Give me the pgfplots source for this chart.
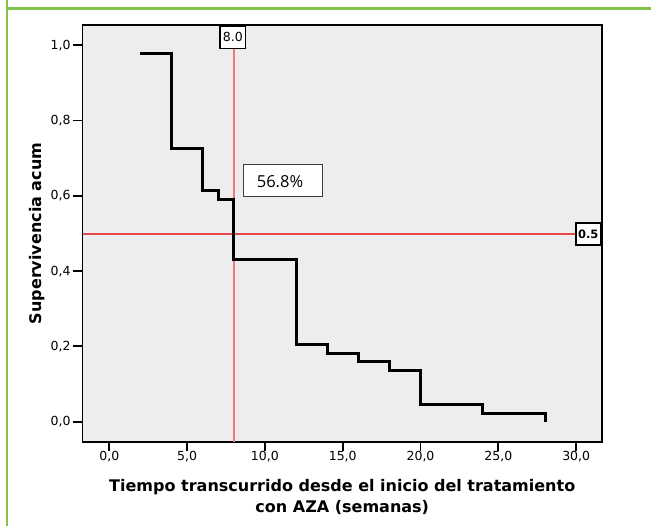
\documentclass[border=0pt]{standalone}
\usepackage{pgfplots}
\pgfplotsset{compat=1.18}
\usepackage{fontspec}
\setmainfont{DejaVu Sans}
\newfontfamily\opensans{Open Sans}
\definecolor{kmgray}{RGB}{237,237,237}
\definecolor{bordergreen}{RGB}{128,194,76}
\definecolor{boxline}{RGB}{60,60,60}
\definecolor{kmhred}{rgb}{0.89,0.28,0.28}
\begin{document}
\begin{tikzpicture}
\useasboundingbox (0pt,0pt) rectangle (651pt,526pt);
\fill[white] (0pt,0pt) rectangle (651pt,526pt);
\fill[bordergreen] (5.8pt,0pt) rectangle (8.4pt,526pt);
\fill[bordergreen] (5.8pt,516.4pt) rectangle (651pt,519pt);
\begin{axis}[
  at={(82.5pt,84pt)}, anchor=south west,
  scale only axis, width=519.5pt, height=417pt,
  xmin=-1.72, xmax=31.66, ymin=-0.054, ymax=1.054,
  clip=false,
  axis background/.style={fill=kmgray},
  axis line style={line width=1.8pt, draw=black},
  xtick={0,5,10,15,20,25,30},
  ytick={0,0.2,0.4,0.6,0.8,1},
  tick align=outside, tick pos=left,
  major tick length=9.5pt,
  xtick style={draw=black, line width=1.8pt},
  ytick style={draw=black, line width=1.8pt},
  /pgf/number format/fixed,
  /pgf/number format/fixed zerofill,
  /pgf/number format/precision=1,
  /pgf/number format/use comma,
  /pgf/number format/assume math mode=true,
  xticklabel style={font=\fontsize{12.5}{14}\selectfont, inner sep=0pt, anchor=north, yshift=0.4pt},
  yticklabel style={font=\fontsize{12.5}{14}\selectfont, inner sep=0pt, anchor=east, xshift=-2.3pt},
  xlabel={Tiempo transcurrido desde el inicio del tratamiento\\con AZA (semanas)},
  xlabel style={at={(axis description cs:0.5,0)}, anchor=north, yshift=-37.5pt, inner sep=0pt, align=center, font=\fontsize{16}{21}\selectfont\bfseries},
  ylabel={Supervivencia acum},
  ylabel style={at={(axis description cs:-0.0866,0.5)}, anchor=center, inner sep=0pt, font=\fontsize{16}{19}\selectfont\bfseries},
]
% reference lines
\addplot[draw=kmhred, line width=2pt, sharp plot] coordinates {(-1.72,0.4985) (29.97,0.4985)};
\addplot[color={rgb,255:red,240;green,120;blue,120}, line width=1.5pt] coordinates {(8,-0.054) (8,0.992)};
% Kaplan-Meier step curve
\addplot[color=black, line width=3pt, const plot mark left, line join=miter] coordinates {
  (2,0.977) (4,0.727) (6,0.614) (7,0.591) (8,0.432) (12,0.205)
  (14,0.182) (16,0.159) (18,0.136) (20,0.045) (24,0.023) (28,0.0)
};
% annotations
\node[draw=black, line width=1.4pt, fill=white, inner sep=0pt, minimum width=25.7pt, minimum height=22.3pt, font=\fontsize{12.5}{14}\selectfont] at (axis cs:7.94,1.021) {8.0};
\node[draw=black, line width=1.4pt, fill=white, inner sep=0pt, minimum width=25pt, minimum height=22pt, font=\fontsize{11.5}{14}\selectfont\bfseries] at (axis cs:30.78,0.4985) {0.5};
\node[draw=boxline, line width=0.9pt, fill=white, inner sep=0pt, minimum width=79.4pt, minimum height=32.7pt] at (axis cs:11.16,0.641) {};
\node[inner sep=0pt, font=\opensans\fontsize{16.5}{18}\selectfont] at (axis cs:10.97,0.637) {56.8\%};
\end{axis}
\end{tikzpicture}
\end{document}
